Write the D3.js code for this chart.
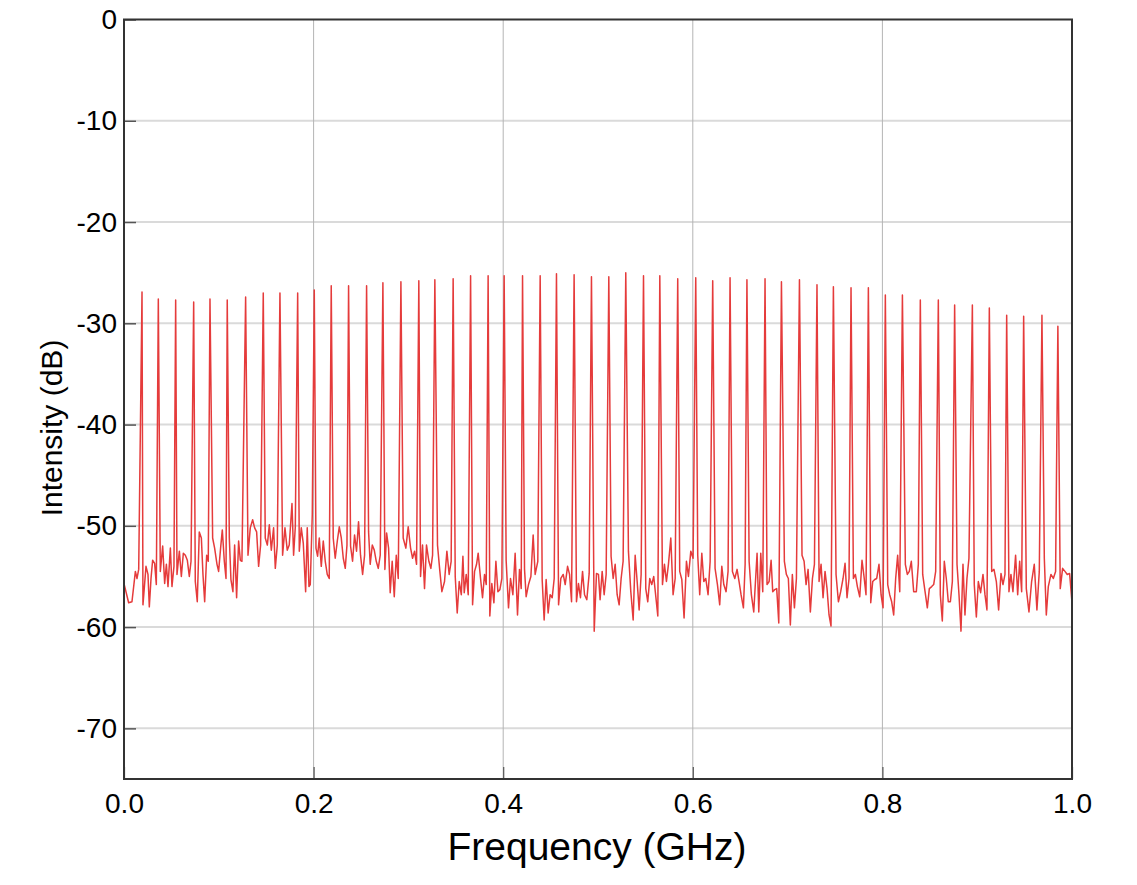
<!DOCTYPE html>
<html>
<head>
<meta charset="utf-8">
<script src="https://cdn.jsdelivr.net/npm/d3@7"></script>
<style>
  html, body { margin: 0; padding: 0; background: #ffffff; }
  svg { display: block; }
  text { font-family: "Liberation Sans", Arial, Helvetica, sans-serif; fill: #000; }
</style>
</head>
<body>
<svg id="chart" width="1137" height="885"></svg>
<script>
// ---- Data ----
const xTicks = [0, 0.2, 0.4, 0.6, 0.8, 1.0];
const xTickLabels = ["0.0", "0.2", "0.4", "0.6", "0.8", "1.0"];
const yTicks = [0, -10, -20, -30, -40, -50, -60, -70];
const yTickLabels = ["0", "-10", "-20", "-30", "-40", "-50", "-60", "-70"];
const xTitle = "Frequency (GHz)";
const yTitle = "Intensity (dB)";

// comb lines: frequency (GHz) and peak level (dB)
const spikeFreq = [0.0190,0.0362,0.0545,0.0735,0.0907,0.1089,0.1283,0.1469,0.1645,0.1832,
  0.2007,0.2186,0.2369,0.2559,0.2731,0.2921,0.3110,0.3279,0.3472,0.3656,
  0.3841,0.4010,0.4204,0.4390,0.4562,0.4748,0.4931,0.5114,0.5293,0.5480,
  0.5652,0.5841,0.6031,0.6210,0.6393,0.6571,0.6762,0.6935,0.7125,0.7310,
  0.7483,0.7669,0.7852,0.8031,0.8211,0.8400,0.8590,0.8762,0.8949,0.9128,
  0.9311,0.9490,0.9683,0.9851];
const spikeDb = [-26.9,-27.6,-27.7,-27.9,-27.6,-27.7,-27.4,-27.0,-27.0,-27.0,
  -26.7,-26.3,-26.3,-26.3,-26.0,-25.9,-25.8,-25.7,-25.6,-25.3,
  -25.3,-25.3,-25.3,-25.3,-25.1,-25.2,-25.4,-25.4,-25.0,-25.3,
  -25.3,-25.6,-25.5,-25.8,-25.5,-25.7,-25.6,-25.9,-25.7,-26.2,
  -26.4,-26.5,-26.5,-27.2,-27.2,-27.7,-27.7,-28.2,-28.2,-28.5,
  -29.2,-29.3,-29.2,-30.3];

// noise floor between the comb lines: frequency (GHz) and level (dB)
const noiseFreq = [0.0000,0.0049,0.0084,0.0120,0.0137,0.0155,0.0200,0.0232,0.0253,0.0267,
  0.0285,0.0302,0.0323,0.0341,0.0383,0.0408,0.0429,0.0447,0.0464,0.0489,
  0.0506,0.0527,0.0559,0.0584,0.0605,0.0626,0.0647,0.0668,0.0689,0.0707,
  0.0752,0.0773,0.0794,0.0816,0.0833,0.0851,0.0872,0.0889,0.0935,0.0956,
  0.0981,0.0998,0.1019,0.1037,0.1058,0.1076,0.1111,0.1128,0.1149,0.1167,
  0.1188,0.1209,0.1227,0.1244,0.1308,0.1332,0.1357,0.1378,0.1399,0.1420,
  0.1441,0.1490,0.1512,0.1533,0.1554,0.1578,0.1596,0.1617,0.1673,0.1698,
  0.1722,0.1743,0.1772,0.1789,0.1807,0.1849,0.1870,0.1891,0.1916,0.1933,
  0.1951,0.1965,0.1986,0.2025,0.2042,0.2060,0.2081,0.2102,0.2123,0.2144,
  0.2165,0.2207,0.2228,0.2250,0.2271,0.2292,0.2313,0.2334,0.2352,0.2390,
  0.2411,0.2432,0.2453,0.2474,0.2495,0.2517,0.2538,0.2580,0.2597,0.2619,
  0.2640,0.2661,0.2682,0.2703,0.2752,0.2770,0.2791,0.2808,0.2829,0.2851,
  0.2872,0.2893,0.2945,0.2973,0.2998,0.3023,0.3044,0.3065,0.3086,0.3128,
  0.3149,0.3170,0.3191,0.3216,0.3237,0.3255,0.3307,0.3332,0.3353,0.3381,
  0.3406,0.3430,0.3451,0.3494,0.3515,0.3536,0.3558,0.3575,0.3589,0.3610,
  0.3631,0.3677,0.3698,0.3719,0.3736,0.3761,0.3782,0.3803,0.3821,0.3859,
  0.3880,0.3902,0.3923,0.3944,0.3965,0.3986,0.4031,0.4056,0.4077,0.4102,
  0.4126,0.4151,0.4172,0.4190,0.4225,0.4242,0.4267,0.4292,0.4316,0.4337,
  0.4365,0.4411,0.4432,0.4453,0.4474,0.4495,0.4517,0.4538,0.4584,0.4608,
  0.4633,0.4654,0.4679,0.4700,0.4721,0.4773,0.4794,0.4815,0.4837,0.4858,
  0.4882,0.4907,0.4960,0.4984,0.5005,0.5022,0.5044,0.5065,0.5086,0.5138,
  0.5160,0.5181,0.5202,0.5223,0.5244,0.5265,0.5321,0.5346,0.5371,0.5392,
  0.5413,0.5434,0.5455,0.5504,0.5525,0.5546,0.5567,0.5588,0.5610,0.5631,
  0.5680,0.5701,0.5722,0.5743,0.5768,0.5792,0.5814,0.5862,0.5884,0.5908,
  0.5933,0.5954,0.5979,0.6003,0.6052,0.6073,0.6095,0.6116,0.6137,0.6161,
  0.6183,0.6235,0.6260,0.6284,0.6306,0.6327,0.6351,0.6372,0.6418,0.6443,
  0.6467,0.6488,0.6509,0.6534,0.6552,0.6594,0.6618,0.6643,0.6678,0.6696,
  0.6717,0.6738,0.6783,0.6805,0.6826,0.6843,0.6864,0.6885,0.6907,0.6966,
  0.6987,0.7008,0.7029,0.7050,0.7072,0.7093,0.7152,0.7174,0.7195,0.7216,
  0.7240,0.7262,0.7283,0.7332,0.7353,0.7374,0.7395,0.7416,0.7437,0.7458,
  0.7511,0.7536,0.7560,0.7585,0.7606,0.7627,0.7648,0.7694,0.7715,0.7736,
  0.7761,0.7785,0.7806,0.7827,0.7877,0.7898,0.7919,0.7940,0.7964,0.7986,
  0.8007,0.8056,0.8077,0.8098,0.8119,0.8140,0.8161,0.8183,0.8242,0.8263,
  0.8284,0.8305,0.8330,0.8358,0.8379,0.8425,0.8450,0.8474,0.8495,0.8520,
  0.8541,0.8562,0.8611,0.8632,0.8653,0.8674,0.8695,0.8717,0.8738,0.8787,
  0.8808,0.8829,0.8850,0.8871,0.8892,0.8913,0.8969,0.8991,0.9012,0.9036,
  0.9061,0.9082,0.9103,0.9153,0.9177,0.9202,0.9226,0.9251,0.9272,0.9293,
  0.9335,0.9356,0.9377,0.9405,0.9427,0.9448,0.9469,0.9518,0.9546,0.9574,
  0.9602,0.9630,0.9655,0.9708,0.9729,0.9750,0.9778,0.9803,0.9827,0.9876,
  0.9901,0.9926,0.9950,0.9975,1.0000];
const noiseDb = [-55.7,-57.6,-57.5,-54.5,-55.2,-54.3,-57.8,-54.0,-54.8,-58.0,
  -55.2,-53.4,-53.7,-55.8,-54.5,-52.0,-55.7,-53.8,-56.0,-52.2,
  -56.0,-54.0,-54.8,-52.5,-55.0,-52.7,-52.9,-53.4,-55.0,-53.5,
  -55.5,-57.5,-50.6,-51.2,-54.8,-57.5,-52.9,-53.5,-51.2,-52.2,
  -53.8,-54.5,-52.2,-50.4,-53.5,-55.2,-51.2,-55.3,-56.5,-51.9,
  -57.1,-51.5,-53.4,-53.5,-52.9,-50.2,-49.4,-50.2,-50.6,-54.0,
  -51.9,-51.2,-51.9,-49.9,-52.4,-50.2,-54.2,-51.9,-52.9,-50.2,
  -52.4,-51.9,-47.8,-52.9,-50.1,-52.5,-50.2,-51.7,-56.5,-50.2,
  -56.0,-55.8,-48.9,-52.2,-53.0,-51.2,-54.0,-51.5,-53.5,-54.8,
  -55.2,-51.2,-53.2,-51.5,-50.1,-51.2,-53.2,-54.2,-51.9,-52.0,
  -53.5,-50.9,-52.5,-49.6,-52.9,-54.8,-52.9,-50.6,-53.8,-51.9,
  -52.4,-53.5,-54.2,-52.9,-54.3,-50.7,-52.2,-56.6,-53.5,-57.0,
  -52.9,-55.2,-51.2,-52.2,-50.1,-52.2,-53.2,-52.5,-53.8,-55.0,
  -51.9,-56.2,-51.9,-53.5,-54.2,-52.9,-51.9,-54.5,-56.5,-55.5,
  -52.5,-54.8,-53.5,-55.0,-58.6,-55.5,-56.8,-53.0,-56.6,-54.8,
  -56.8,-57.8,-54.5,-53.8,-52.7,-55.2,-57.1,-54.8,-55.8,-58.9,
  -55.7,-57.6,-53.5,-56.5,-56.3,-55.2,-53.4,-58.1,-55.2,-56.8,
  -52.7,-58.8,-54.3,-56.2,-54.3,-57.0,-55.8,-55.0,-50.9,-54.8,
  -53.5,-55.3,-59.3,-55.3,-58.6,-56.8,-57.1,-55.2,-57.8,-55.2,
  -54.8,-55.8,-54.0,-54.8,-57.5,-57.5,-55.7,-57.1,-54.5,-56.8,
  -57.3,-54.7,-60.4,-54.7,-54.8,-57.3,-54.5,-56.8,-54.8,-53.0,
  -55.2,-53.8,-56.8,-57.8,-55.2,-53.5,-52.5,-56.5,-59.3,-52.9,
  -55.5,-58.3,-54.8,-56.2,-57.5,-55.2,-55.8,-55.0,-57.0,-58.9,
  -55.8,-53.8,-55.5,-53.8,-51.2,-56.8,-55.2,-54.5,-55.3,-59.1,
  -53.5,-55.0,-52.5,-53.2,-52.9,-56.8,-52.7,-55.5,-55.2,-56.8,
  -53.5,-54.2,-55.8,-57.8,-54.0,-55.8,-56.5,-54.5,-54.5,-55.2,
  -54.3,-55.5,-56.8,-58.1,-53.8,-53.5,-56.8,-58.5,-52.7,-58.5,
  -52.7,-56.5,-55.8,-55.5,-53.4,-56.5,-56.3,-56.2,-59.6,-53.5,
  -54.8,-55.2,-59.8,-54.8,-58.1,-55.2,-52.9,-53.5,-55.8,-54.3,
  -58.5,-55.2,-53.8,-55.5,-53.8,-57.1,-54.5,-56.2,-58.8,-59.9,
  -54.8,-57.5,-56.5,-55.2,-53.7,-57.1,-55.2,-55.2,-54.8,-56.0,
  -57.0,-53.4,-55.0,-56.8,-57.6,-55.5,-55.3,-55.2,-53.8,-56.8,
  -58.1,-55.8,-56.8,-57.5,-58.8,-55.2,-52.9,-56.5,-53.8,-54.8,
  -54.5,-53.5,-56.5,-56.5,-53.8,-54.8,-56.5,-58.1,-56.2,-56.0,
  -55.8,-54.5,-56.8,-59.4,-53.5,-55.2,-57.5,-57.5,-55.5,-53.8,
  -56.8,-60.4,-53.8,-58.8,-55.2,-53.2,-55.8,-59.0,-55.5,-56.6,
  -54.8,-56.8,-58.3,-54.5,-54.3,-55.5,-58.3,-54.7,-55.8,-54.8,
  -56.5,-54.8,-56.5,-52.9,-56.8,-53.5,-56.5,-56.2,-58.5,-55.5,
  -53.8,-58.3,-54.5,-53.2,-58.8,-56.0,-54.8,-55.2,-54.5,-56.2,
  -54.2,-54.5,-54.8,-54.7,-57.6];

// ---- Layout ----
const W = 1137, H = 885;
const margin = { left: 124, right: 1137 - 1072, top: 19.5, bottom: 885 - 779 };
const svg = d3.select("#chart");
const x = d3.scaleLinear().domain([0, 1]).range([margin.left, W - margin.right]);
const y = d3.scaleLinear().domain([-75, 0]).range([H - margin.bottom, margin.top]);

// combined series (noise floor + comb lines), sorted by frequency
const pts = noiseFreq.map((f, i) => ({ f, v: noiseDb[i] }))
  .concat(spikeFreq.map((f, i) => ({ f, v: spikeDb[i] })))
  .sort((a, b) => a.f - b.f);

// grid
const grid = svg.append("g");
grid.selectAll("line.h").data(yTicks.filter(t => t > -75 && t < 0)).enter()
  .append("line")
  .attr("x1", x(0)).attr("x2", x(1))
  .attr("y1", d => y(d)).attr("y2", d => y(d))
  .attr("stroke", "#dadada").attr("stroke-width", 2);
grid.selectAll("line.v").data(xTicks.filter(t => t > 0 && t < 1)).enter()
  .append("line")
  .attr("x1", d => x(d)).attr("x2", d => x(d))
  .attr("y1", y(-75)).attr("y2", y(0))
  .attr("stroke", "#b4b4b4").attr("stroke-width", 1);

// clip
svg.append("clipPath").attr("id", "clip").append("rect")
  .attr("x", x(0)).attr("y", y(0)).attr("width", x(1) - x(0)).attr("height", y(-75) - y(0));

// series line
const line = d3.line().x(d => x(d.f)).y(d => y(d.v));
svg.append("path")
  .datum(pts)
  .attr("clip-path", "url(#clip)")
  .attr("fill", "none")
  .attr("stroke", "#e53b3b")
  .attr("stroke-width", 1.5)
  .attr("stroke-linejoin", "round")
  .attr("d", line);

// axes (ticks pointing inward)
const yAxis = d3.axisLeft(y).tickValues(yTicks).tickSize(-12).tickPadding(7)
  .tickFormat((d, i) => yTickLabels[i]);
const gy = svg.append("g").attr("transform", `translate(${x(0)},0)`).call(yAxis);
gy.select(".domain").remove();
gy.selectAll(".tick line").attr("stroke", "#555").attr("stroke-width", 1.5);
gy.selectAll(".tick text").attr("font-size", 28).attr("font-family", "Liberation Sans, Arial, sans-serif").attr("fill", "#000");

const xAxis = d3.axisBottom(x).tickValues(xTicks).tickSize(-12).tickPadding(14)
  .tickFormat((d, i) => xTickLabels[i]);
const gx = svg.append("g").attr("transform", `translate(0,${y(-75)})`).call(xAxis);
gx.select(".domain").remove();
gx.selectAll(".tick line").attr("stroke", "#555").attr("stroke-width", 1.2);
gx.selectAll(".tick text").attr("font-size", 28).attr("font-family", "Liberation Sans, Arial, sans-serif").attr("fill", "#000");

// frame
svg.append("rect")
  .attr("x", x(0)).attr("y", y(0))
  .attr("width", x(1) - x(0)).attr("height", y(-75) - y(0))
  .attr("fill", "none").attr("stroke", "#333").attr("stroke-width", 2);

// titles
svg.append("text")
  .attr("x", (x(0) + x(1)) / 2 - 1).attr("y", 860)
  .attr("text-anchor", "middle").attr("font-size", 39)
  .text(xTitle);
svg.append("text")
  .attr("transform", "translate(62,428) rotate(-90)")
  .attr("text-anchor", "middle").attr("font-size", 30)
  .text(yTitle);
</script>
</body>
</html>
